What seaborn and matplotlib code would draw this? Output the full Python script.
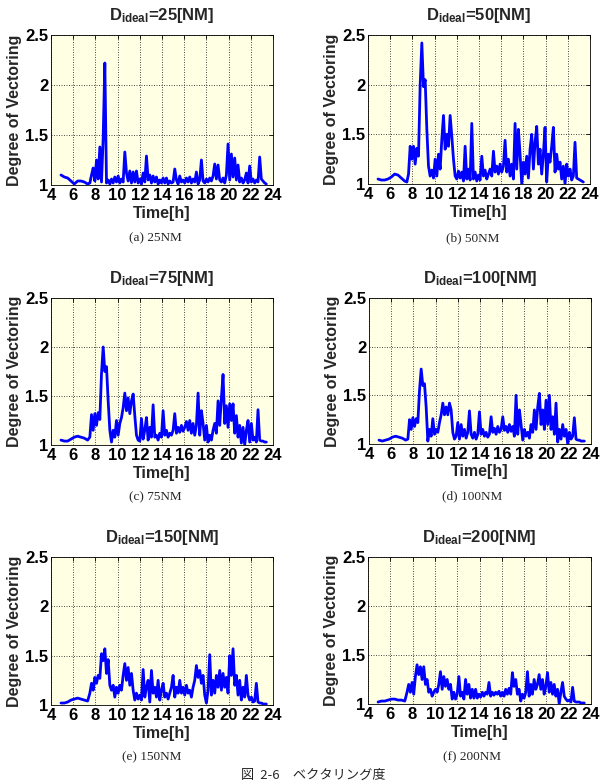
import numpy as np
import pandas as pd
import matplotlib
matplotlib.use("Agg")
import matplotlib.pyplot as plt
import seaborn as sns

# ---------------- data ----------------
hours = [4.9, 5.2, 5.5, 5.8, 6.1, 6.4, 6.7, 7.0, 7.3,
         7.5, 7.65, 7.8, 7.95, 8.1, 8.25, 8.4, 8.55, 8.7, 8.85,
         9.0, 9.15, 9.3, 9.45, 9.6, 9.75, 9.9, 10.05, 10.2, 10.35,
         10.5, 10.65, 10.8, 10.95, 11.1, 11.25, 11.4, 11.55, 11.7, 11.85,
         12.0, 12.15, 12.3, 12.45, 12.6, 12.75, 12.9, 13.05, 13.2, 13.35,
         13.5, 13.65, 13.8, 13.95, 14.1, 14.25, 14.4, 14.55, 14.7, 14.85,
         15.0, 15.15, 15.3, 15.45, 15.6, 15.75, 15.9, 16.05, 16.2, 16.35,
         16.5, 16.65, 16.8, 16.95, 17.1, 17.25, 17.4, 17.55, 17.7, 17.85,
         18.0, 18.15, 18.3, 18.45, 18.6, 18.75, 18.9, 19.05, 19.2, 19.35,
         19.5, 19.65, 19.8, 19.95, 20.1, 20.25, 20.4, 20.55, 20.7, 20.85,
         21.0, 21.15, 21.3, 21.45, 21.6, 21.75, 21.9, 22.05, 22.2, 22.35,
         22.5, 22.65, 22.8, 22.95, 23.1, 23.25, 23.4]

dv_25 = [1.10, 1.08, 1.07, 1.04, 1.01, 1.04, 1.04, 1.03, 1.01,
         1.02, 1.10, 1.17, 1.04, 1.25, 1.06, 1.38, 1.03, 1.47, 2.22,
         1.02, 1.05, 1.01, 1.06, 1.02, 1.08, 1.03, 1.09, 1.02, 1.06,
         1.03, 1.33, 1.12, 1.04, 1.14, 1.02, 1.13, 1.03, 1.14, 1.02,
         1.06, 1.01, 1.12, 1.03, 1.29, 1.05, 1.10, 1.02, 1.09, 1.03,
         1.08, 1.01, 1.05, 1.02, 1.07, 1.02, 1.07, 1.01, 1.04, 1.02,
         1.03, 1.16, 1.05, 1.01, 1.09, 1.03, 1.05, 1.02, 1.07, 1.03,
         1.08, 1.02, 1.06, 1.03, 1.13, 1.01, 1.05, 1.25, 1.04, 1.02,
         1.06, 1.03, 1.07, 1.04, 1.09, 1.21, 1.06, 1.20, 1.05, 1.03,
         1.07, 1.02, 1.10, 1.41, 1.05, 1.31, 1.08, 1.27, 1.05, 1.20,
         1.03, 1.07, 1.02, 1.05, 1.12, 1.02, 1.19, 1.03, 1.06, 1.02,
         1.05, 1.03, 1.28, 1.06, 1.04, 1.02, 1.01]

dv_50 = [1.05, 1.04, 1.04, 1.05, 1.07, 1.10, 1.09, 1.06, 1.03,
         1.02, 1.10, 1.38, 1.25, 1.38, 1.20, 1.36, 1.28, 2.00, 2.42,
         1.98, 2.05, 1.55, 1.18, 1.08, 1.14, 1.06, 1.25, 1.08, 1.30,
         1.15, 1.45, 1.69, 1.35, 1.50, 1.38, 1.69, 1.48, 1.25, 1.08,
         1.05, 1.13, 1.06, 1.12, 1.03, 1.38, 1.05, 1.15, 1.04, 1.61,
         1.05, 1.12, 1.03, 1.09, 1.04, 1.28, 1.08, 1.14, 1.05, 1.10,
         1.15, 1.08, 1.33, 1.12, 1.18, 1.10, 1.20, 1.12, 1.18, 1.44,
         1.12, 1.25, 1.08, 1.20, 1.05, 1.61, 1.15, 1.55, 1.30, 1.00,
         1.22, 1.10, 1.28, 1.06, 1.35, 1.50, 1.15, 1.42, 1.58, 1.20,
         1.35, 1.10, 1.30, 1.57, 1.02, 1.30, 1.22, 1.38, 1.57, 1.12,
         1.30, 1.15, 1.22, 1.05, 1.18, 1.00, 1.20, 1.08, 1.15, 1.04,
         1.08, 1.42, 1.06, 1.05, 1.04, 1.03, 1.02]

dv_75 = [1.05, 1.04, 1.04, 1.06, 1.08, 1.09, 1.08, 1.07, 1.05,
         1.08, 1.31, 1.15, 1.32, 1.20, 1.33, 1.26, 1.73, 2.00, 1.75,
         1.80, 1.45, 1.15, 1.03, 1.15, 1.08, 1.25, 1.10, 1.22, 1.28,
         1.38, 1.53, 1.35, 1.48, 1.32, 1.45, 1.52, 1.30, 1.10, 1.05,
         1.04, 1.27, 1.06, 1.15, 1.28, 1.05, 1.18, 1.08, 1.41, 1.08,
         1.10, 1.05, 1.12, 1.08, 1.35, 1.10, 1.15, 1.08, 1.12, 1.10,
         1.15, 1.32, 1.12, 1.18, 1.13, 1.20, 1.14, 1.18, 1.24, 1.15,
         1.25, 1.12, 1.22, 1.10, 1.20, 1.53, 1.10, 1.35, 1.22, 1.05,
         1.20, 1.03, 1.10, 1.05, 1.15, 1.22, 1.12, 1.45, 1.20, 1.48,
         1.72, 1.22, 1.40, 1.18, 1.42, 1.25, 1.42, 1.12, 1.30, 1.08,
         1.20, 1.02, 1.18, 1.00, 1.15, 1.25, 1.03, 1.22, 1.05, 1.08,
         1.03, 1.36, 1.05, 1.04, 1.04, 1.03, 1.03]

dv_100 = [1.04, 1.03, 1.04, 1.05, 1.07, 1.08, 1.07, 1.06, 1.04,
          1.05, 1.25, 1.15, 1.27, 1.18, 1.26, 1.22, 1.55, 1.77, 1.60,
          1.62, 1.38, 1.03, 1.15, 1.08, 1.26, 1.10, 1.15, 1.12, 1.22,
          1.30, 1.42, 1.30, 1.38, 1.30, 1.42, 1.35, 1.12, 1.05, 1.08,
          1.22, 1.05, 1.20, 1.08, 1.15, 1.06, 1.12, 1.34, 1.10, 1.06,
          1.12, 1.05, 1.10, 1.33, 1.10, 1.15, 1.08, 1.12, 1.07, 1.10,
          1.28, 1.12, 1.16, 1.10, 1.18, 1.12, 1.15, 1.28, 1.14, 1.18,
          1.12, 1.20, 1.13, 1.18, 1.08, 1.50, 1.10, 1.35, 1.20, 1.04,
          1.15, 1.08, 1.12, 1.06, 1.20, 1.12, 1.35, 1.15, 1.38, 1.52,
          1.20, 1.35, 1.15, 1.45, 1.20, 1.50, 1.15, 1.28, 1.10, 1.42,
          1.02, 1.15, 1.05, 1.20, 1.08, 1.15, 1.00, 1.12, 1.05, 1.08,
          1.27, 1.05, 1.04, 1.04, 1.03, 1.03, 1.03]

dv_150 = [1.02, 1.02, 1.03, 1.05, 1.06, 1.07, 1.06, 1.05, 1.04,
          1.12, 1.22, 1.15, 1.28, 1.22, 1.30, 1.27, 1.52, 1.45, 1.57,
          1.32, 1.46, 1.20, 1.15, 1.20, 1.08, 1.18, 1.12, 1.20, 1.15,
          1.30, 1.42, 1.25, 1.38, 1.20, 1.32, 1.15, 1.05, 1.12, 1.06,
          1.10, 1.05, 1.36, 1.08, 1.18, 1.25, 1.03, 1.35, 1.12, 1.18,
          1.08, 1.25, 1.05, 1.15, 1.22, 1.08, 1.12, 1.06, 1.12, 1.18,
          1.30, 1.08, 1.18, 1.12, 1.25, 1.12, 1.18, 1.10, 1.20, 1.12,
          1.15, 1.08, 1.18, 1.25, 1.40, 1.28, 1.35, 1.22, 1.30, 1.10,
          1.02, 1.15, 1.51, 1.10, 1.25, 1.12, 1.30, 1.18, 1.35, 1.15,
          1.32, 1.18, 1.28, 1.12, 1.50, 1.30, 1.57, 1.20, 1.30, 1.10,
          1.25, 1.05, 1.18, 1.08, 1.30, 1.10, 1.05, 1.08, 1.03, 1.04,
          1.22, 1.03, 1.02, 1.02, 1.01, 1.01, 1.01]

dv_200 = [1.02, 1.03, 1.03, 1.04, 1.05, 1.05, 1.04, 1.04, 1.03,
          1.12, 1.20, 1.12, 1.22, 1.10, 1.28, 1.40, 1.30, 1.38, 1.25,
          1.38, 1.20, 1.25, 1.12, 1.15, 1.08, 1.12, 1.15, 1.12, 1.20,
          1.33, 1.15, 1.28, 1.18, 1.25, 1.15, 1.20, 1.05, 1.12, 1.05,
          1.10, 1.28, 1.08, 1.12, 1.05, 1.25, 1.10, 1.20, 1.06, 1.15,
          1.06, 1.15, 1.06, 1.10, 1.07, 1.12, 1.08, 1.12, 1.10, 1.22,
          1.08, 1.12, 1.09, 1.12, 1.10, 1.13, 1.08, 1.12, 1.08, 1.15,
          1.10, 1.16, 1.10, 1.32, 1.18, 1.25, 1.10, 1.15, 1.03, 1.10,
          1.06, 1.12, 1.33, 1.08, 1.20, 1.10, 1.25, 1.15, 1.20, 1.30,
          1.15, 1.25, 1.10, 1.18, 1.32, 1.12, 1.22, 1.10, 1.20, 1.08,
          1.15, 1.00, 1.12, 1.22, 1.08, 1.05, 1.03, 1.04, 1.02, 1.17,
          1.03, 1.02, 1.02, 1.02, 1.01, 1.01, 1.01]

d_ideal = ["25", "50", "75", "100", "150", "200"]
captions = ["(a) 25NM", "(b) 50NM", "(c) 75NM", "(d) 100NM", "(e) 150NM", "(f) 200NM"]
series = [dv_25, dv_50, dv_75, dv_100, dv_150, dv_200]
x_ticks = [4, 6, 8, 10, 12, 14, 16, 18, 20, 22, 24]
y_ticks = [1, 1.5, 2, 2.5]
y_ticklabels = ["1", "1.5", "2", "2.5"]
fig_caption = "図  2-6\u3000ベクタリング度"

# ---------------- style ----------------
sns.set_theme(style="white")
plt.rcParams["font.family"] = ["Liberation Sans", "DejaVu Sans"]
plt.rcParams["mathtext.fontset"] = "custom"
plt.rcParams["mathtext.rm"] = "Liberation Sans:bold"
plt.rcParams["mathtext.bf"] = "Liberation Sans:bold"
plt.rcParams["mathtext.it"] = "Liberation Sans:bold"

W, H = 603, 782
fig = plt.figure(figsize=(W / 100, H / 100), dpi=100)
fig.patch.set_facecolor("white")

# axes boxes in pixels: (left, top, right, bottom)
boxes = [(51, 35, 273, 185), (368, 35, 590, 184),
         (51, 298, 273, 445), (369, 298, 591, 444),
         (51, 557, 273, 705), (368, 557, 591, 704)]
cap_pos = [(155, 238), (473, 238), (155, 497), (472, 496), (152, 757), (472, 757)]

for i, (l, t, r, b) in enumerate(boxes):
    ax = fig.add_axes([l / W, 1 - b / H, (r - l) / W, (b - t) / H])
    ax.set_facecolor("#FFFFE3")
    df = pd.DataFrame({"Time": hours, "DV": series[i]})
    sns.lineplot(data=df, x="Time", y="DV", ax=ax, color="#0000FF",
                 linewidth=2.0, estimator=None, sort=False)
    ax.set_xlim(4, 24)
    ax.set_ylim(1, 2.5)
    ax.set_xticks(x_ticks)
    ax.set_yticks(y_ticks)
    ax.set_yticklabels(y_ticklabels)
    ax.grid(True, color="#333333", linestyle=(0, (1.2, 1.8)), linewidth=0.6)
    ax.tick_params(direction="in", length=3, width=0.6, top=True, right=True,
                   labelsize=12, pad=2, colors="black")
    for lab in ax.get_xticklabels() + ax.get_yticklabels():
        lab.set_fontweight("bold")
    for s in ax.spines.values():
        s.set_visible(True)
        s.set_color("black")
        s.set_linewidth(0.6)
    ax.set_xlabel("Time[h]", fontsize=11.5, fontweight="bold")
    ax.set_ylabel("Degree of Vectoring", fontsize=11.5, fontweight="bold")
    ax.xaxis.set_label_coords(0.5, -0.14)
    ax.yaxis.set_label_coords(-0.13, 0.5)
    ax.set_title(r"$\mathbf{D_{ideal}}$=" + d_ideal[i] + "[NM]",
                 fontsize=12, fontweight="bold", pad=11)
    cx, cy = cap_pos[i]
    fig.text(cx / W, 1 - cy / H, captions[i], ha="center", va="center",
             fontsize=9.5, family=["Liberation Serif"])

fig.text(313 / W, 1 - 775 / H, fig_caption, ha="center", va="center",
         fontsize=9.5, family=["Noto Sans CJK JP", "DejaVu Sans"])

fig.savefig("out.png", dpi=100)
